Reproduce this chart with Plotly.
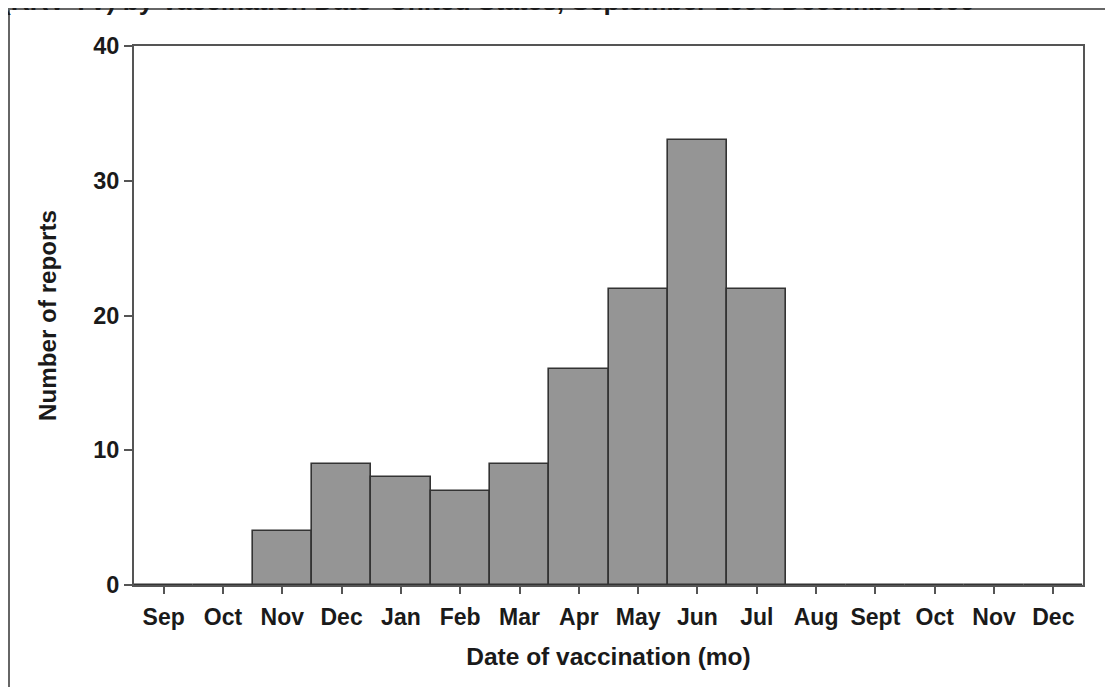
import plotly.graph_objects as go

months = ["Sep", "Oct", "Nov", "Dec", "Jan", "Feb", "Mar", "Apr", "May", "Jun",
          "Jul", "Aug", "Sept", "Oct", "Nov", "Dec"]
reports = [0, 0, 4, 9, 8, 7, 9, 16, 22, 33, 22, 0, 0, 0, 0, 0]
y_ticks = [0, 10, 20, 30, 40]

title_text = "(RRV-TV) by Vaccination Date--United States, September 1998-December 1999"
x_title = "Date of vaccination (mo)"
y_title = "Number of reports"

W, H = 1113, 687
OFF = 7  # page offset of the figure inside the window
L, T = 133 - OFF, 45 - OFF
R = W - (1082 - OFF)
B = H - (584 - OFF)
pw, ph = W - L - R, H - T - B

def px_x(s):
    return (s - OFF - L) / pw

def px_y(s):
    return (H - B - (s - OFF)) / ph

FONT = "Liberation Sans, Arial, sans-serif"
positions = list(range(len(months)))

fig = go.Figure(go.Bar(
    x=positions, y=reports, width=1,
    marker=dict(color="#959595", line=dict(color="#333333", width=1.6)),
))

fig.update_layout(
    width=W, height=H,
    margin=dict(l=L, r=R, t=T, b=B),
    paper_bgcolor="white", plot_bgcolor="white",
    showlegend=False, bargap=0,
    font=dict(family=FONT, color="#1a1a1a"),
)

fig.update_xaxes(
    range=[-0.5, len(months) - 0.5],
    tickmode="array", tickvals=positions, ticktext=months,
    ticks="outside", ticklen=7, tickwidth=2, tickcolor="#555555",
    ticklabelstandoff=3,
    showline=True, linecolor="#555555", linewidth=2, mirror=True,
    showgrid=False, zeroline=False,
    tickfont=dict(size=23, family=FONT, weight="bold", color="#1a1a1a"),
    title=dict(text=x_title, font=dict(size=24.5, family=FONT, weight="bold", color="#1a1a1a"),
               standoff=19),
)
fig.update_yaxes(
    range=[0, 40],
    tickmode="array", tickvals=y_ticks,
    ticks="outside", ticklen=8, tickwidth=2, tickcolor="#555555",
    showline=True, linecolor="#555555", linewidth=2, mirror=True,
    showgrid=False, zeroline=False,
    tickfont=dict(size=23.5, family=FONT, weight="bold", color="#1a1a1a"),
    title=dict(text=y_title, font=dict(size=24.2, family=FONT, weight="bold", color="#1a1a1a"),
               standoff=30),
)

# outer frame (extends beyond the visible page on right and bottom)
fig.add_shape(type="rect", xref="paper", yref="paper",
              x0=px_x(8), x1=px_x(1200), y0=px_y(760), y1=px_y(8),
              line=dict(color="#666666", width=2), fillcolor="rgba(0,0,0,0)", layer="below")

# title, cut off by the top of the page
fig.add_annotation(text=title_text, xref="paper", yref="paper",
                   x=px_x(-1), y=px_y(17), xanchor="left", yanchor="bottom",
                   showarrow=False,
                   font=dict(size=26.3, family=FONT, weight="bold", color="#1a1a1a"))

fig.write_html("out.html")
